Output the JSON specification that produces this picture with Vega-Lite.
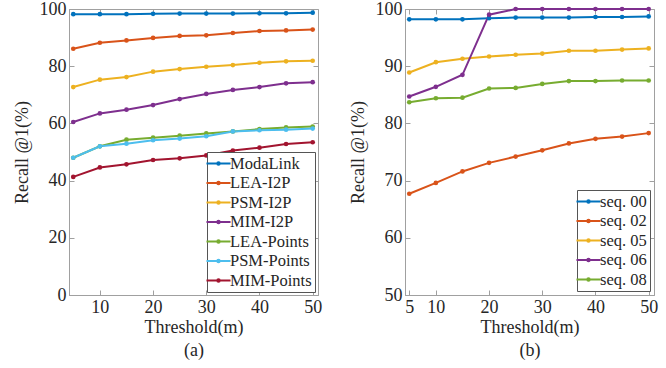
{
  "$schema": "https://vega.github.io/schema/vega-lite/v6.json",
  "padding": {"left": 12, "top": -1, "right": 5, "bottom": 2},
  "background": "white",
  "config": {
    "view": {"stroke": "#a0a0a0", "strokeWidth": 1},
    "axis": {
      "grid": false,
      "domainColor": "#a0a0a0",
      "tickColor": "#a0a0a0",
      "tickSize": -5,
      "labelPadding": 8,
      "labelFont": "Liberation Serif",
      "labelFontSize": 18,
      "labelColor": "#262626",
      "titleFont": "Liberation Serif",
      "titleFontSize": 18,
      "titleFontWeight": "normal",
      "titleColor": "#262626"
    },
    "legend": {
      "labelFont": "Liberation Serif",
      "labelFontSize": 16.5,
      "labelColor": "#262626",
      "labelOffset": 3,
      "strokeColor": "#555555",
      "fillColor": "white",
      "padding": 3,
      "rowPadding": 2.5,
      "symbolStrokeWidth": 2,
      "symbolSize": 200,
      "symbolType": "M-1.7,0H1.7M-0.17,0a0.17,0.17 0 1,0 0.34,0a0.17,0.17 0 1,0 -0.34,0"
    }
  },
  "spacing": 25,
  "hconcat": [
    {
      "width": 249,
      "height": 286,
      "data": {"values": [
        {"t":5,"v":98.2,"m":"ModaLink"},{"t":10,"v":98.2,"m":"ModaLink"},{"t":15,"v":98.2,"m":"ModaLink"},{"t":20,"v":98.3,"m":"ModaLink"},{"t":25,"v":98.4,"m":"ModaLink"},{"t":30,"v":98.4,"m":"ModaLink"},{"t":35,"v":98.4,"m":"ModaLink"},{"t":40,"v":98.5,"m":"ModaLink"},{"t":45,"v":98.5,"m":"ModaLink"},{"t":50,"v":98.7,"m":"ModaLink"},
        {"t":5,"v":86.1,"m":"LEA-I2P"},{"t":10,"v":88.2,"m":"LEA-I2P"},{"t":15,"v":89.0,"m":"LEA-I2P"},{"t":20,"v":89.9,"m":"LEA-I2P"},{"t":25,"v":90.6,"m":"LEA-I2P"},{"t":30,"v":90.8,"m":"LEA-I2P"},{"t":35,"v":91.6,"m":"LEA-I2P"},{"t":40,"v":92.3,"m":"LEA-I2P"},{"t":45,"v":92.5,"m":"LEA-I2P"},{"t":50,"v":92.8,"m":"LEA-I2P"},
        {"t":5,"v":72.7,"m":"PSM-I2P"},{"t":10,"v":75.3,"m":"PSM-I2P"},{"t":15,"v":76.2,"m":"PSM-I2P"},{"t":20,"v":78.1,"m":"PSM-I2P"},{"t":25,"v":79.0,"m":"PSM-I2P"},{"t":30,"v":79.8,"m":"PSM-I2P"},{"t":35,"v":80.4,"m":"PSM-I2P"},{"t":40,"v":81.2,"m":"PSM-I2P"},{"t":45,"v":81.7,"m":"PSM-I2P"},{"t":50,"v":81.9,"m":"PSM-I2P"},
        {"t":5,"v":60.5,"m":"MIM-I2P"},{"t":10,"v":63.5,"m":"MIM-I2P"},{"t":15,"v":64.8,"m":"MIM-I2P"},{"t":20,"v":66.4,"m":"MIM-I2P"},{"t":25,"v":68.5,"m":"MIM-I2P"},{"t":30,"v":70.3,"m":"MIM-I2P"},{"t":35,"v":71.7,"m":"MIM-I2P"},{"t":40,"v":72.7,"m":"MIM-I2P"},{"t":45,"v":74.0,"m":"MIM-I2P"},{"t":50,"v":74.4,"m":"MIM-I2P"},
        {"t":5,"v":48.0,"m":"LEA-Points"},{"t":10,"v":52.0,"m":"LEA-Points"},{"t":15,"v":54.3,"m":"LEA-Points"},{"t":20,"v":55.0,"m":"LEA-Points"},{"t":25,"v":55.7,"m":"LEA-Points"},{"t":30,"v":56.5,"m":"LEA-Points"},{"t":35,"v":57.2,"m":"LEA-Points"},{"t":40,"v":58.0,"m":"LEA-Points"},{"t":45,"v":58.6,"m":"LEA-Points"},{"t":50,"v":58.9,"m":"LEA-Points"},
        {"t":5,"v":48.0,"m":"PSM-Points"},{"t":10,"v":52.0,"m":"PSM-Points"},{"t":15,"v":52.9,"m":"PSM-Points"},{"t":20,"v":54.1,"m":"PSM-Points"},{"t":25,"v":54.7,"m":"PSM-Points"},{"t":30,"v":55.5,"m":"PSM-Points"},{"t":35,"v":57.2,"m":"PSM-Points"},{"t":40,"v":57.6,"m":"PSM-Points"},{"t":45,"v":57.8,"m":"PSM-Points"},{"t":50,"v":58.2,"m":"PSM-Points"},
        {"t":5,"v":41.3,"m":"MIM-Points"},{"t":10,"v":44.6,"m":"MIM-Points"},{"t":15,"v":45.7,"m":"MIM-Points"},{"t":20,"v":47.2,"m":"MIM-Points"},{"t":25,"v":47.8,"m":"MIM-Points"},{"t":30,"v":48.8,"m":"MIM-Points"},{"t":35,"v":50.5,"m":"MIM-Points"},{"t":40,"v":51.5,"m":"MIM-Points"},{"t":45,"v":52.8,"m":"MIM-Points"},{"t":50,"v":53.4,"m":"MIM-Points"}
      ]},
      "layer": [
        {
          "mark": {"type": "line", "strokeWidth": 2, "point": {"size": 22, "filled": true}},
          "encoding": {
            "x": {"field": "t", "type": "quantitative", "scale": {"domain": [4.2, 51], "nice": false, "zero": false},
                  "axis": {"values": [10, 20, 30, 40, 50], "title": ["Threshold(m)", "(a)"], "titleLineHeight": 23, "titlePadding": 2}},
            "y": {"field": "v", "type": "quantitative", "scale": {"domain": [0, 100], "nice": false},
                  "axis": {"values": [0, 20, 40, 60, 80, 100], "title": "Recall @1(%)", "titlePadding": 8}},
            "color": {"field": "m", "type": "nominal",
              "scale": {"domain": ["ModaLink","LEA-I2P","PSM-I2P","MIM-I2P","LEA-Points","PSM-Points","MIM-Points"],
                        "range": ["#0072BD","#D95319","#EDB120","#7E2F8E","#77AC30","#4DBEEE","#A2142F"]},
              "legend": {"title": null, "orient": "bottom-right", "offset": 3}}
          }
        },
        {
          "mark": {"type": "point", "opacity": 0},
          "encoding": {
            "x": {"field": "t", "type": "quantitative", "axis": {"orient": "top", "values": [10, 20, 30, 40, 50], "labels": false, "title": null, "domain": false}},
            "y": {"field": "v", "type": "quantitative", "axis": {"orient": "right", "values": [0, 20, 40, 60, 80, 100], "labels": false, "title": null, "domain": false}}
          }
        }
      ],
      "resolve": {"axis": {"x": "independent", "y": "independent"}}
    },
    {
      "width": 249,
      "height": 286,
      "data": {"values": [
        {"t":5,"v":98.2,"s":"seq. 00"},{"t":10,"v":98.2,"s":"seq. 00"},{"t":15,"v":98.2,"s":"seq. 00"},{"t":20,"v":98.4,"s":"seq. 00"},{"t":25,"v":98.5,"s":"seq. 00"},{"t":30,"v":98.5,"s":"seq. 00"},{"t":35,"v":98.5,"s":"seq. 00"},{"t":40,"v":98.6,"s":"seq. 00"},{"t":45,"v":98.6,"s":"seq. 00"},{"t":50,"v":98.7,"s":"seq. 00"},
        {"t":5,"v":67.7,"s":"seq. 02"},{"t":10,"v":69.6,"s":"seq. 02"},{"t":15,"v":71.6,"s":"seq. 02"},{"t":20,"v":73.1,"s":"seq. 02"},{"t":25,"v":74.2,"s":"seq. 02"},{"t":30,"v":75.3,"s":"seq. 02"},{"t":35,"v":76.5,"s":"seq. 02"},{"t":40,"v":77.3,"s":"seq. 02"},{"t":45,"v":77.7,"s":"seq. 02"},{"t":50,"v":78.3,"s":"seq. 02"},
        {"t":5,"v":88.9,"s":"seq. 05"},{"t":10,"v":90.7,"s":"seq. 05"},{"t":15,"v":91.3,"s":"seq. 05"},{"t":20,"v":91.7,"s":"seq. 05"},{"t":25,"v":92.0,"s":"seq. 05"},{"t":30,"v":92.2,"s":"seq. 05"},{"t":35,"v":92.7,"s":"seq. 05"},{"t":40,"v":92.7,"s":"seq. 05"},{"t":45,"v":92.9,"s":"seq. 05"},{"t":50,"v":93.1,"s":"seq. 05"},
        {"t":5,"v":84.7,"s":"seq. 06"},{"t":10,"v":86.4,"s":"seq. 06"},{"t":15,"v":88.5,"s":"seq. 06"},{"t":20,"v":99.0,"s":"seq. 06"},{"t":25,"v":100,"s":"seq. 06"},{"t":30,"v":100,"s":"seq. 06"},{"t":35,"v":100,"s":"seq. 06"},{"t":40,"v":100,"s":"seq. 06"},{"t":45,"v":100,"s":"seq. 06"},{"t":50,"v":100,"s":"seq. 06"},
        {"t":5,"v":83.7,"s":"seq. 08"},{"t":10,"v":84.4,"s":"seq. 08"},{"t":15,"v":84.5,"s":"seq. 08"},{"t":20,"v":86.1,"s":"seq. 08"},{"t":25,"v":86.2,"s":"seq. 08"},{"t":30,"v":86.9,"s":"seq. 08"},{"t":35,"v":87.4,"s":"seq. 08"},{"t":40,"v":87.4,"s":"seq. 08"},{"t":45,"v":87.5,"s":"seq. 08"},{"t":50,"v":87.5,"s":"seq. 08"}
      ]},
      "layer": [
        {
          "mark": {"type": "line", "strokeWidth": 2, "point": {"size": 22, "filled": true}},
          "encoding": {
            "x": {"field": "t", "type": "quantitative", "scale": {"domain": [4.2, 51], "nice": false, "zero": false},
                  "axis": {"values": [5, 10, 20, 30, 40, 50], "title": ["Threshold(m)", "(b)"], "titleLineHeight": 23, "titlePadding": 2}},
            "y": {"field": "v", "type": "quantitative", "scale": {"domain": [50, 100], "nice": false, "zero": false},
                  "axis": {"values": [50, 60, 70, 80, 90, 100], "title": "Recall @1(%)", "titlePadding": 8}},
            "color": {"field": "s", "type": "nominal",
              "scale": {"domain": ["seq. 00","seq. 02","seq. 05","seq. 06","seq. 08"],
                        "range": ["#0072BD","#D95319","#EDB120","#7E2F8E","#77AC30"]},
              "legend": {"title": null, "orient": "bottom-right", "offset": 4}}
          }
        },
        {
          "mark": {"type": "point", "opacity": 0},
          "encoding": {
            "x": {"field": "t", "type": "quantitative", "axis": {"orient": "top", "values": [5, 10, 20, 30, 40, 50], "labels": false, "title": null, "domain": false}},
            "y": {"field": "v", "type": "quantitative", "axis": {"orient": "right", "values": [50, 60, 70, 80, 90, 100], "labels": false, "title": null, "domain": false}}
          }
        }
      ],
      "resolve": {"axis": {"x": "independent", "y": "independent"}}
    }
  ],
  "resolve": {"scale": {"color": "independent"}, "legend": {"color": "independent"}}
}
